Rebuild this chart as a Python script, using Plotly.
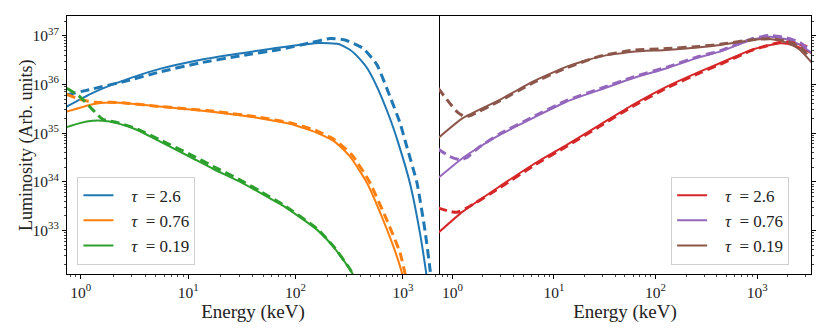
import numpy as np
import plotly.graph_objects as go
from plotly.subplots import make_subplots

# Valores (log10 de energia en keV y de luminosidad)
# Panel izquierdo
logE_blue = [-0.13, 0.112, 0.363, 0.736, 1.109, 1.482, 1.855, 2.227, 2.40, 2.507, 2.60, 2.665, 2.759, 2.88, 2.954, 3.066, 3.159, 3.215, 3.24]
logL_blue = [35.545, 35.826, 36.051, 36.318, 36.502, 36.635, 36.758, 36.850, 36.83, 36.71, 36.52, 36.34, 35.95, 35.30, 34.82, 33.97, 32.95, 32.16, 31.75]
logE_blue_d = [-0.13, 0.112, 0.429, 0.736, 1.109, 1.482, 1.855, 2.134, 2.32, 2.46, 2.628, 2.759, 2.88, 2.973, 3.029, 3.131, 3.206, 3.253, 3.28]
logL_blue_d = [35.785, 35.908, 36.072, 36.256, 36.44, 36.584, 36.717, 36.85, 36.943, 36.912, 36.742, 36.40, 35.75, 35.211, 34.781, 33.98, 33.0, 32.2, 31.65]

logE_orange = [-0.13, 0.112, 0.27, 0.429, 0.736, 1.202, 1.668, 1.948, 2.199, 2.367, 2.507, 2.665, 2.815, 2.945, 2.992, 3.01]
logL_orange = [35.443, 35.594, 35.627, 35.615, 35.545, 35.443, 35.307, 35.19, 35.006, 34.82, 34.52, 33.98, 33.223, 32.465, 32.117, 31.9]
logE_orange_d = [-0.13, -0.009, 0.13, 0.27, 0.429, 0.736, 1.202, 1.668, 1.948, 2.199, 2.367, 2.526, 2.684, 2.842, 2.973, 3.02, 3.04]
logL_orange_d = [35.795, 35.693, 35.631, 35.631, 35.615, 35.545, 35.457, 35.324, 35.211, 35.047, 34.86, 34.55, 34.02, 33.26, 32.55, 32.117, 31.9]

logE_green = [-0.13, -0.009, 0.112, 0.205, 0.336, 0.522, 0.736, 1.016, 1.230, 1.482, 1.668, 1.883, 2.199, 2.349, 2.507, 2.535, 2.56]
logL_green = [35.123, 35.205, 35.252, 35.252, 35.205, 35.068, 34.828, 34.514, 34.268, 34.002, 33.777, 33.51, 33.018, 32.676, 32.199, 32.097, 31.95]
logE_green_d = [-0.13, -0.009, 0.112, 0.205, 0.336, 0.522, 0.736, 1.016, 1.230, 1.482, 1.668, 1.883, 2.199, 2.349, 2.507, 2.535, 2.56]
logL_green_d = [35.922, 35.75, 35.477, 35.283, 35.22, 35.088, 34.863, 34.566, 34.32, 34.043, 33.81, 33.531, 33.04, 32.69, 32.21, 32.097, 31.95]

# Panel derecho
logE_red = [-0.14, 0.101, 0.466, 0.791, 1.126, 1.451, 1.776, 2.111, 2.436, 2.633, 2.959, 3.224, 3.353, 3.54]
logL_red = [32.951, 33.387, 33.906, 34.35, 34.76, 35.17, 35.58, 35.955, 36.262, 36.434, 36.721, 36.844, 36.809, 36.639]
logE_red_d = [-0.14, -0.027, 0.042, 0.141, 0.466, 0.791, 1.126, 1.451, 1.776, 2.111, 2.436, 2.633, 2.959, 3.224, 3.373, 3.491]
logL_red_d = [33.463, 33.393, 33.373, 33.459, 33.879, 34.32, 34.73, 35.14, 35.55, 35.928, 36.236, 36.41, 36.707, 36.861, 36.861, 36.775]

logE_purple = [-0.14, 0.101, 0.269, 0.466, 0.791, 1.126, 1.451, 1.776, 2.111, 2.436, 2.633, 2.959, 3.126, 3.293, 3.422, 3.54]
logL_purple = [34.078, 34.488, 34.72, 34.965, 35.307, 35.648, 35.887, 36.127, 36.332, 36.56, 36.672, 36.926, 36.98, 36.922, 36.809, 36.639]
logE_purple_d = [-0.14, -0.027, 0.072, 0.141, 0.269, 0.466, 0.791, 1.126, 1.451, 1.776, 2.111, 2.436, 2.633, 2.959, 3.126, 3.293, 3.422, 3.51]
logL_purple_d = [34.672, 34.521, 34.453, 34.494, 34.72, 34.985, 35.33, 35.672, 35.91, 36.15, 36.355, 36.58, 36.686, 36.943, 37.004, 36.953, 36.861, 36.707]

logE_brown = [-0.14, 0.101, 0.466, 0.791, 1.126, 1.451, 1.776, 2.111, 2.436, 2.633, 2.959, 3.126, 3.293, 3.422, 3.54]
logL_brown = [34.898, 35.307, 35.682, 36.057, 36.365, 36.57, 36.672, 36.707, 36.762, 36.809, 36.912, 36.932, 36.861, 36.707, 36.441]
logE_brown_d = [-0.14, -0.027, 0.052, 0.121, 0.17, 0.466, 0.791, 1.126, 1.451, 1.776, 2.111, 2.436, 2.633, 2.959, 3.126, 3.293, 3.422, 3.51]
logL_brown_d = [35.922, 35.615, 35.426, 35.34, 35.354, 35.66, 36.03, 36.34, 36.58, 36.70, 36.735, 36.78, 36.824, 36.918, 36.939, 36.891, 36.768, 36.574]

etiquetas = ["&nbsp;&nbsp;&nbsp;<i>τ</i>&nbsp; = 2.6", "&nbsp;&nbsp;&nbsp;<i>τ</i>&nbsp; = 0.76",
             "&nbsp;&nbsp;&nbsp;<i>τ</i>&nbsp; = 0.19"]
colores_izq = ["#1f77b4", "#ff7f0e", "#2ca02c"]
colores_der = ["#d62728", "#9467bd", "#8c564b"]

curvas_izq = [(logE_blue, logL_blue, logE_blue_d, logL_blue_d),
              (logE_orange, logL_orange, logE_orange_d, logL_orange_d),
              (logE_green, logL_green, logE_green_d, logL_green_d)]
curvas_der = [(logE_red, logL_red, logE_red_d, logL_red_d),
              (logE_purple, logL_purple, logE_purple_d, logL_purple_d),
              (logE_brown, logL_brown, logE_brown_d, logL_brown_d)]

fuente = "Liberation Serif, Times New Roman, DejaVu Serif, serif"

fig = make_subplots(rows=1, cols=2, shared_yaxes=True, horizontal_spacing=0)

for col, curvas, colores, leyenda in [(1, curvas_izq, colores_izq, "legend"), (2, curvas_der, colores_der, "legend2")]:
    for (xe, yl, xd, yd), c, lab in zip(curvas, colores, etiquetas):
        fig.add_trace(go.Scatter(x=10**np.array(xe), y=10**np.array(yl), mode="lines", name=lab,
                                 line=dict(color=c, width=2, shape="spline", smoothing=0.5),
                                 legend=leyenda), row=1, col=col)
    for (xe, yl, xd, yd), c in zip(curvas, colores):
        fig.add_trace(go.Scatter(x=10**np.array(xd), y=10**np.array(yd), mode="lines", showlegend=False,
                                 line=dict(color=c, width=3, dash="9px,5px", shape="spline", smoothing=0.5)),
                      row=1, col=col)

ejes = dict(type="log", showgrid=False, zeroline=False, showline=True, linecolor="black", linewidth=1,
            mirror=True, ticks="outside", ticklen=4, tickcolor="black", automargin=False,
            tickfont=dict(family=fuente, size=15.5, color="#222"),
            minor=dict(ticks="outside", ticklen=2, tickcolor="#444", dtick="D1", showgrid=False))

xt = [1, 10, 100, 1000]
xtt = ["10<sup>0</sup>", "10<sup>1</sup>", "10<sup>2</sup>", "10<sup>3</sup>"]
fig.update_xaxes(**ejes, tickvals=xt, ticktext=xtt,
                 title=dict(text="Energy (keV)", font=dict(family=fuente, size=19, color="#222"), standoff=2))
fig.update_xaxes(range=[np.log10(0.745), np.log10(2170)], row=1, col=1)
fig.update_xaxes(range=[np.log10(0.738), np.log10(3390)], row=1, col=2)

yt = [1e33, 1e34, 1e35, 1e36, 1e37]
ytt = ["10<sup>33</sup>", "10<sup>34</sup>", "10<sup>35</sup>", "10<sup>36</sup>", "10<sup>37</sup>"]
fig.update_yaxes(**ejes, tickvals=yt, ticktext=ytt, range=[32.107, 37.404])
fig.update_yaxes(showticklabels=False, side="right", mirror=False, row=1, col=2)

# titulo del eje y como anotacion para fijar su posicion
fig.add_annotation(text="Luminosity (Arb. units)", xref="paper", yref="paper", x=-0.0551, y=0.5,
                   xanchor="center", yanchor="middle", textangle=-90, showarrow=False,
                   font=dict(family=fuente, size=18, color="#222"))

caja = dict(bgcolor="rgba(255,255,255,0.8)", bordercolor="#d0d0d0", borderwidth=1,
            font=dict(family=fuente, size=17, color="#222"), xanchor="left", yanchor="bottom",
            tracegroupgap=0)
# la pagina html deja 8 px de margen en el body: se descuentan aqui
fig.update_layout(
    width=822, height=324,
    margin=dict(l=59, r=19, t=8, b=58),
    paper_bgcolor="white", plot_bgcolor="white",
    legend=dict(**caja, x=0.014, y=0.036),
    legend2=dict(**caja, x=0.812, y=0.036),
)

fig.write_html("out.html")
